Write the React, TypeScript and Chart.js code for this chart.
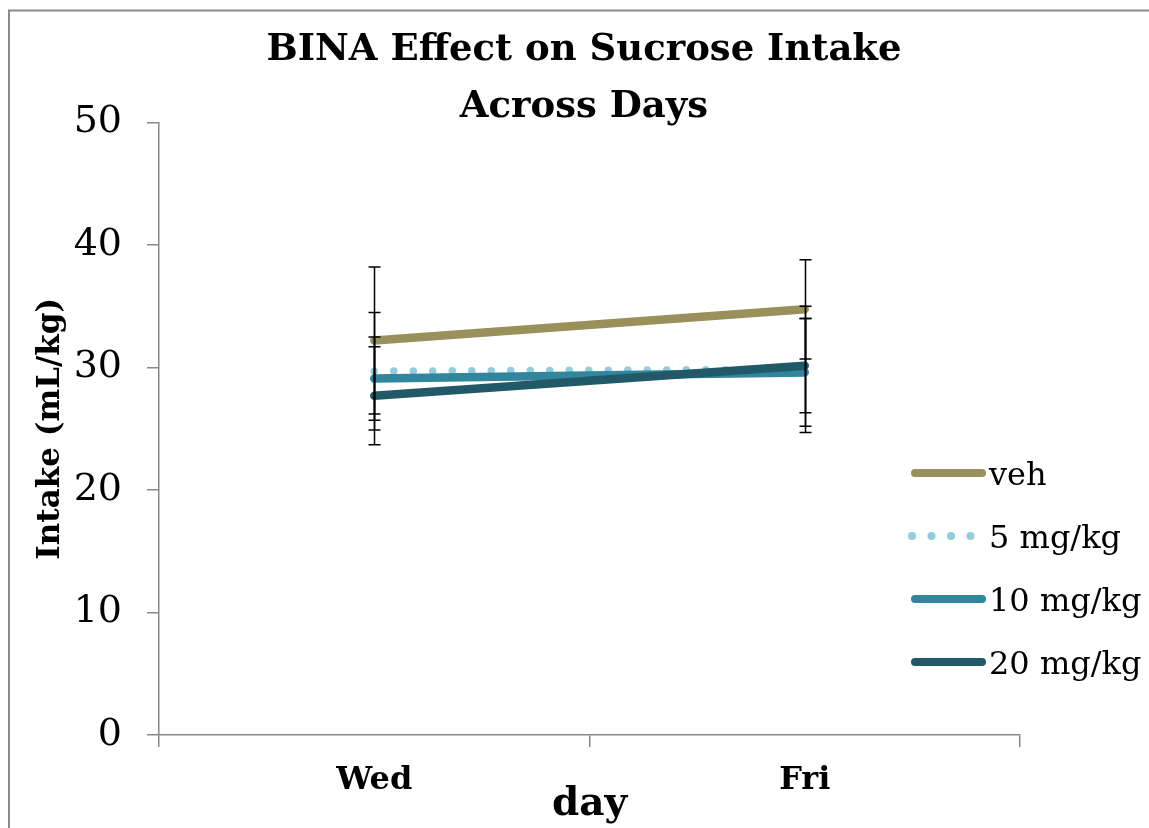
import React, { useEffect, useRef } from "react";
import { Chart, registerables } from "chart.js";

Chart.register(...registerables);

// ---- data ----
const days = ["Wed", "Fri"];
const seriesLabels = ["veh", "5 mg/kg", "10 mg/kg", "20 mg/kg"];
const vehValues = [32.2, 34.75];
const mg5Values = [29.7, 29.85];
const mg10Values = [29.1, 29.6];
const mg20Values = [27.7, 30.15];
const vehErr = [6.0, 4.05];
const mg5Err = [4.8, 5.15];
const mg10Err = [3.4, 4.4];
const mg20Err = [4.0, 3.85];
const yMin = 0;
const yMax = 50;
const yStep = 10;
const titleLines = ["BINA Effect on Sucrose Intake", "Across Days"];
const yTitle = "Intake (mL/kg)";
const xTitle = "day";

const colors = ["#9a905b", "#92cddc", "#31859c", "#215968"];
const FONT = "'DejaVu Serif', serif";

const values = [vehValues, mg5Values, mg10Values, mg20Values];
const errors = [vehErr, mg5Err, mg10Err, mg20Err];

const framePlugin = {
  id: "frame",
  beforeDraw(chart: any) {
    const { ctx, width, height } = chart;
    ctx.save();
    ctx.fillStyle = "#ffffff";
    ctx.fillRect(0, 0, width, height);
    ctx.strokeStyle = "#8a8a8a";
    ctx.lineWidth = 2;
    ctx.strokeRect(9, 10.5, width + 20, height + 20);
    ctx.restore();
  },
};

const errorBarPlugin = {
  id: "errorBars",
  afterDatasetsDraw(chart: any) {
    const { ctx } = chart;
    const xs = chart.scales.x;
    const ys = chart.scales.y;
    ctx.save();
    ctx.strokeStyle = "#000000";
    ctx.lineWidth = 1.5;
    errors.forEach((errArr, i) => {
      errArr.forEach((e, j) => {
        const v = values[i][j];
        const x = Math.round(xs.getPixelForValue(j)) + 0.5;
        const yt = ys.getPixelForValue(v + e);
        const yb = ys.getPixelForValue(v - e);
        ctx.beginPath();
        ctx.moveTo(x, yt);
        ctx.lineTo(x, yb);
        ctx.moveTo(x - 6, yt);
        ctx.lineTo(x + 6, yt);
        ctx.moveTo(x - 6, yb);
        ctx.lineTo(x + 6, yb);
        ctx.stroke();
      });
    });
    ctx.restore();
  },
};

const titlePlugin = {
  id: "customTitle",
  afterDraw(chart: any) {
    const { ctx } = chart;
    ctx.save();
    ctx.fillStyle = "#000000";
    ctx.font = `bold 37px ${FONT}`;
    ctx.textAlign = "center";
    ctx.textBaseline = "alphabetic";
    ctx.fillText(titleLines[0], 584, 60);
    ctx.fillText(titleLines[1], 584, 117);
    ctx.restore();
  },
};

const legendPlugin = {
  id: "customLegend",
  afterDraw(chart: any) {
    const { ctx } = chart;
    ctx.save();
    chart.data.datasets.forEach((ds: any, i: number) => {
      const y = 473 + i * 63;
      ctx.strokeStyle = ds.borderColor;
      ctx.lineWidth = 8;
      ctx.lineCap = "round";
      const dash = ds.borderDash || [];
      ctx.setLineDash(dash);
      ctx.beginPath();
      if (dash.length) {
        ctx.moveTo(912, y);
        ctx.lineTo(985, y);
      } else {
        ctx.moveTo(915, y);
        ctx.lineTo(982, y);
      }
      ctx.stroke();
      ctx.setLineDash([]);
      ctx.fillStyle = "#000000";
      ctx.font = `32px ${FONT}`;
      ctx.textAlign = "left";
      ctx.textBaseline = "alphabetic";
      ctx.fillText(ds.label, 989, y + 11.5);
    });
    ctx.restore();
  },
};

export default function App() {
  const canvasRef = useRef<HTMLCanvasElement | null>(null);

  useEffect(() => {
    document.body.style.margin = "0";
    const canvas = canvasRef.current;
    if (!canvas) return;
    const chart = new Chart(canvas, {
      type: "line",
      data: {
        labels: days,
        datasets: seriesLabels.map((label, i) => ({
          label,
          data: values[i],
          borderColor: colors[i],
          backgroundColor: colors[i],
          borderWidth: i === 1 ? 7.5 : 8.5,
          borderCapStyle: "round",
          borderDash: i === 1 ? [0, 19.5] : undefined,
          pointRadius: 0,
          pointHoverRadius: 0,
          tension: 0,
          fill: false,
          order: 4 - i,
        })),
      },
      options: {
        responsive: false,
        animation: false,
        events: [],
        layout: { padding: { top: 122.5, right: 129, left: 0, bottom: 0 } },
        plugins: {
          legend: { display: false },
          title: { display: false },
          tooltip: { enabled: false },
        },
        scales: {
          x: {
            type: "category",
            offset: true,
            grid: {
              offset: true,
              drawOnChartArea: false,
              drawTicks: true,
              tickLength: 12,
              color: "#888888",
              lineWidth: 1.5,
            },
            border: { color: "#888888", width: 1.5 },
            ticks: {
              color: "#000000",
              font: { family: FONT, size: 32, weight: "bold", lineHeight: 1.2 },
              padding: 14,
              maxRotation: 0,
            },
            title: {
              display: true,
              text: xTitle,
              color: "#000000",
              font: { family: FONT, size: 39, weight: "bold", lineHeight: 1.2 },
              padding: { top: 0, bottom: 0 },
            },
            afterFit(scale: any) {
              scale.height = 93;
            },
          },
          y: {
            type: "linear",
            min: yMin,
            max: yMax,
            ticks: {
              stepSize: yStep,
              color: "#000000",
              font: { family: FONT, size: 38, lineHeight: 1.2 },
              padding: 25,
            },
            grid: {
              drawOnChartArea: false,
              drawTicks: true,
              tickLength: 12,
              color: "#888888",
              lineWidth: 1.5,
            },
            border: { color: "#888888", width: 1.5 },
            title: {
              display: true,
              text: yTitle,
              color: "#000000",
              font: { family: FONT, size: 31, weight: "bold", lineHeight: 1.2 },
              padding: { top: 32, bottom: 0 },
            },
            afterFit(scale: any) {
              scale.width = 159;
            },
          },
        },
      },
      plugins: [framePlugin, errorBarPlugin, titlePlugin, legendPlugin],
    } as any);
    return () => chart.destroy();
  }, []);

  return (
    <canvas
      ref={canvasRef}
      width={1149}
      height={828}
      style={{ display: "block", width: "1149px", height: "828px" }}
    />
  );
}
